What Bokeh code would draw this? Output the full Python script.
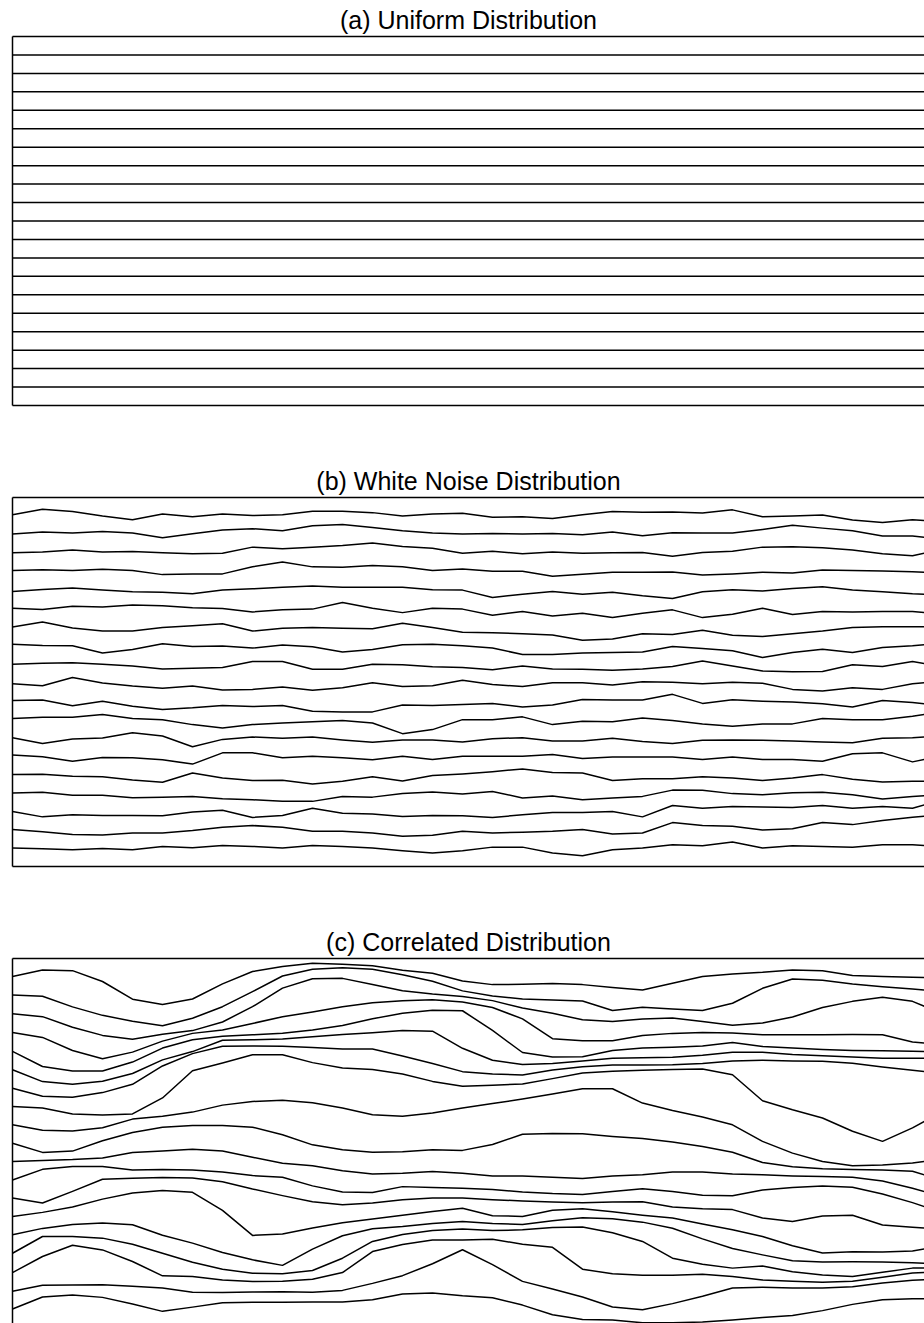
from bokeh.plotting import figure
from bokeh.models import LinearAxis, Range1d, FixedTicker
from bokeh.layouts import column
from bokeh.embed import file_html
from bokeh.resources import INLINE

# ---------------- data ----------------
titles = ["(a) Uniform Distribution", "(b) White Noise Distribution", "(c) Correlated Distribution"]
x_positions = [0, 1, 2, 3, 4, 5, 6, 7, 8, 9, 10, 11, 12, 13, 14, 15, 16, 17, 18, 19, 20,
               21, 22, 23, 24, 25, 26, 27, 28, 29, 30, 30.4]
line_levels = [19, 18, 17, 16, 15, 14, 13, 12, 11, 10, 9, 8, 7, 6, 5, 4, 3, 2, 1]
uniform_x = [0, 30.4]

# (b) white noise: deviation from each line's level
noise_01 = [0.07, 0.36, 0.24, 0, -0.2, 0.11, -0.04, 0.11, 0.02, 0.07, 0.25, 0.25, 0.18, 0, 0.11, 0.14, -0.07, -0.04, -0.14, 0.07, 0.24, 0.2, 0.22, 0.16, 0.33, -0.04, 0, 0.05, -0.22, -0.36, -0.2, -0.25]
noise_02 = [0.02, 0.13, 0.07, 0.16, 0.07, -0.18, 0.04, 0.24, 0.31, 0.2, 0.47, 0.53, 0.38, 0.2, 0.07, 0.02, 0.05, 0.02, 0.05, -0.02, 0.13, -0.07, 0.09, 0.07, 0.07, 0.27, 0.49, 0.34, 0.2, -0.09, -0.09, -0.16]
noise_03 = [0, 0.05, 0.15, 0.04, 0.07, 0, -0.05, -0.02, 0.31, 0.22, 0.31, 0.4, 0.53, 0.34, 0.25, -0.02, 0.09, -0.05, 0.05, -0.02, 0, 0.02, -0.18, 0.02, 0.09, 0.31, 0.33, 0.27, 0.16, -0.05, -0.16, -0.02]
noise_04 = [0.04, 0.09, 0.05, 0.11, 0.04, -0.18, -0.14, -0.14, 0.25, 0.5, 0.24, 0.22, 0.31, 0.25, 0.04, 0.13, 0, 0, -0.27, -0.16, -0.05, -0.05, -0.04, -0.2, -0.14, -0.05, -0.09, 0.07, 0.04, 0.02, -0.02, -0.05]
noise_05 = [-0.09, 0.02, 0.09, -0.02, -0.11, -0.14, -0.22, -0.02, 0.05, 0.13, 0.2, 0.13, 0.13, 0.14, 0, -0.02, -0.42, -0.24, -0.09, -0.25, -0.13, -0.33, -0.47, -0.11, 0, -0.07, 0.07, 0.16, -0.02, -0.11, -0.22, -0.24]
noise_06 = [0, -0.07, 0.11, 0.07, 0.18, 0.13, 0.02, -0.02, -0.2, -0.09, -0.05, 0.31, 0, -0.24, 0, -0.05, -0.38, -0.18, -0.42, -0.27, -0.51, -0.27, -0.09, -0.51, -0.33, 0, -0.34, -0.18, -0.2, -0.18, -0.18, -0.24]
noise_07 = [-0.02, 0.25, -0.07, -0.24, -0.24, -0.04, 0.05, 0.16, -0.24, -0.09, -0.05, -0.09, -0.11, 0.18, -0.05, -0.3, -0.33, -0.38, -0.45, -0.74, -0.67, -0.38, -0.42, -0.2, -0.47, -0.53, -0.38, -0.24, -0.05, 0, 0, 0]
noise_08 = [0.05, -0.02, -0.04, -0.43, -0.24, 0.07, -0.07, -0.05, -0.16, 0, -0.09, -0.38, -0.24, 0.02, 0.05, -0.04, -0.16, -0.51, -0.51, -0.43, -0.4, -0.38, -0.07, -0.18, -0.31, -0.67, -0.4, -0.22, -0.4, -0.13, -0.04, 0.02]
noise_09 = [-0.04, 0.02, 0.05, -0.04, -0.13, -0.29, -0.25, -0.22, 0.11, 0.11, -0.31, -0.31, -0.04, -0.07, -0.18, -0.22, -0.34, -0.13, -0.29, -0.31, -0.36, -0.29, -0.16, 0.14, -0.13, -0.4, -0.45, -0.43, -0.07, -0.16, 0.11, 0]
noise_10 = [-0.09, -0.2, 0.24, -0.05, -0.22, -0.34, -0.22, -0.43, -0.4, -0.27, -0.45, -0.31, -0.04, -0.25, -0.2, 0.09, -0.13, -0.25, -0.04, -0.04, -0.16, 0.02, -0.02, -0.09, -0.02, -0.07, -0.4, -0.49, -0.31, -0.4, -0.09, -0.04]
noise_11 = [0, 0.02, -0.29, -0.04, -0.31, -0.49, -0.4, -0.27, -0.33, -0.27, -0.58, -0.62, -0.62, -0.25, -0.27, -0.22, -0.16, -0.36, -0.25, 0.05, 0.02, 0.02, 0.33, -0.16, 0.04, -0.04, -0.09, -0.18, -0.36, 0, -0.11, -0.18]
noise_12 = [0.02, 0.09, 0.09, 0.24, 0.02, -0.04, -0.31, -0.49, -0.31, -0.22, -0.16, -0.09, -0.22, -0.8, -0.58, -0.04, -0.04, 0.11, -0.31, -0.13, -0.16, 0.05, -0.09, -0.27, -0.4, -0.27, -0.27, 0.02, -0.04, -0.04, 0.14, 0.24]
noise_13 = [-0.02, -0.33, -0.09, -0.04, 0.25, 0.07, -0.51, -0.11, 0.02, -0.05, 0.02, -0.14, -0.27, -0.14, -0.14, -0.25, -0.07, -0.02, -0.2, -0.2, -0.05, -0.22, -0.33, -0.16, -0.14, -0.16, -0.2, -0.25, -0.29, -0.05, -0.02, 0.02]
noise_14 = [0.04, -0.05, -0.29, -0.09, -0.11, -0.22, -0.45, 0.16, 0.16, -0.11, -0.02, -0.11, -0.22, -0.02, -0.2, -0.02, -0.02, -0.02, 0.07, -0.14, -0.07, -0.07, -0.07, -0.2, -0.07, -0.2, -0.2, -0.29, 0.11, 0.16, -0.33, -0.2]
noise_15 = [-0.02, 0, -0.11, -0.14, -0.31, -0.43, 0.07, -0.2, -0.34, -0.33, -0.53, -0.38, -0.13, -0.36, -0.07, 0.02, 0.14, 0.29, 0.09, 0.07, -0.34, -0.24, -0.24, -0.14, -0.2, -0.34, -0.2, -0.02, -0.27, -0.42, -0.38, -0.38]
noise_16 = [-0.02, 0.02, -0.14, -0.14, -0.27, -0.24, -0.2, -0.33, -0.38, -0.47, -0.47, -0.2, -0.24, -0.04, 0.04, -0.07, 0.07, -0.29, -0.18, -0.38, -0.29, -0.2, 0.14, 0.13, -0.05, -0.11, 0, 0.02, -0.11, -0.34, -0.2, -0.16]
noise_17 = [-0.02, -0.31, -0.2, -0.24, -0.24, -0.25, -0.05, 0.05, -0.34, -0.24, 0.16, -0.11, -0.16, -0.29, -0.24, -0.25, -0.34, -0.2, -0.07, -0.07, -0.02, -0.31, 0.31, 0.16, 0.25, 0.22, 0.2, 0.31, 0.16, 0.25, 0.16, 0.34]
noise_18 = [0, -0.11, -0.27, -0.29, -0.18, -0.18, -0.05, 0.13, 0.22, 0.13, -0.09, -0.09, -0.18, -0.36, -0.31, -0.09, -0.18, -0.14, -0.09, 0, -0.24, -0.18, 0.38, 0.22, 0.18, -0.02, 0.05, 0.38, 0.27, 0.49, 0.67, 0.72]
noise_19 = [0, -0.04, -0.09, -0.02, -0.09, 0.09, 0.02, 0.14, 0.09, 0, 0.14, 0.09, 0, -0.14, -0.27, -0.14, 0.05, 0.05, -0.27, -0.42, -0.09, 0, 0.18, 0.13, 0.33, 0, 0.13, 0.09, 0.04, 0.18, 0.18, 0.13]

# (c) correlated: deviation from each line's level
corr_01 = [0.02, 0.38, 0.34, -0.25, -1.21, -1.5, -1.2, -0.38, 0.29, 0.56, 0.74, 0.69, 0.6, 0.36, 0.2, -0.22, -0.42, -0.4, -0.36, -0.42, -0.58, -0.71, -0.34, 0.02, 0.16, 0.25, 0.38, 0.33, 0.07, 0.02, -0.02, -0.04]
corr_02 = [0.02, -0.05, -0.63, -1.09, -1.41, -1.65, -1.25, -0.62, 0.2, 1.05, 1.41, 1.5, 1.41, 1.12, 0.76, 0.24, -0.04, -0.2, -0.25, -0.31, -0.83, -0.65, -0.74, -0.83, -0.43, 0.38, 0.89, 0.82, 0.62, 0.47, 0.34, 0.29]
corr_03 = [0, -0.16, -0.74, -1.18, -1.39, -1.12, -0.92, -0.45, 0.38, 1.39, 1.9, 1.92, 1.59, 1.25, 1.07, 0.94, 0.71, 0.31, 0.02, -0.33, -0.42, -0.29, -0.24, -0.42, -0.63, -0.51, -0.18, 0.34, 0.67, 0.89, 0.67, 0.4]
corr_04 = [-0.02, -0.29, -1.0, -1.45, -1.09, -0.49, -0.07, 0.11, 0.47, 0.83, 1.09, 1.38, 1.59, 1.7, 1.76, 1.63, 1.34, 0.72, -0.36, -0.47, -0.47, -0.18, -0.07, -0.02, -0.05, -0.14, -0.14, -0.14, -0.13, -0.14, -0.54, -0.6]
corr_05 = [-0.05, -0.87, -1.12, -1.12, -0.63, 0.13, 0.58, 0.78, 0.85, 0.94, 1.11, 1.36, 1.72, 2.03, 2.19, 2.16, 1.09, -0.11, -0.36, -0.34, 0, 0.13, 0.18, 0.25, 0.43, 0.22, 0.13, 0.05, 0, -0.02, -0.04, -0.05]
corr_06 = [-0.05, -0.69, -0.83, -0.67, -0.25, 0.49, 0.94, 1.56, 1.58, 1.63, 1.74, 1.87, 1.96, 2.08, 2.05, 1.12, 0.47, 0.24, 0.29, 0.43, 0.58, 0.6, 0.63, 0.74, 0.91, 0.91, 0.78, 0.72, 0.65, 0.58, 0.58, 0.58]
corr_07 = [-0.05, -0.49, -0.54, -0.29, 0.16, 1.16, 1.83, 2.23, 2.25, 2.23, 2.16, 2.08, 2.08, 1.7, 1.29, 0.85, 0.72, 0.67, 0.94, 1.12, 1.21, 1.21, 1.23, 1.29, 1.43, 1.47, 1.43, 1.41, 1.3, 1.1, 0.92, 0.85]
corr_08 = [-0.04, -0.13, -0.45, -0.51, -0.45, 0.42, 1.9, 2.32, 2.77, 2.77, 2.34, 2.05, 1.97, 1.72, 1.32, 1.05, 1.11, 1.18, 1.47, 1.78, 1.87, 1.92, 1.96, 1.99, 1.68, 0.27, -0.22, -0.67, -1.39, -1.94, -1.21, -0.85]
corr_09 = [-0.04, -0.34, -0.38, -0.2, 0.27, 0.43, 0.65, 1.03, 1.23, 1.29, 1.16, 0.87, 0.51, 0.42, 0.6, 0.87, 1.12, 1.36, 1.63, 1.92, 1.92, 1.14, 0.74, 0.38, -0.04, -0.94, -1.58, -2.03, -2.26, -2.23, -2.12, -2.03]
corr_10 = [-0.04, -0.54, -0.47, 0.09, 0.54, 0.83, 0.92, 0.92, 0.83, 0.42, -0.13, -0.4, -0.53, -0.51, -0.4, -0.43, -0.11, 0.45, 0.49, 0.47, 0.33, 0.22, 0.02, -0.22, -0.53, -1.09, -1.32, -1.43, -1.47, -1.5, -1.56, -1.76]
corr_11 = [-0.04, 0.02, 0.07, 0.16, 0.45, 0.54, 0.63, 0.54, 0.2, -0.13, -0.27, -0.54, -0.71, -0.67, -0.58, -0.67, -0.82, -0.82, -0.89, -0.96, -0.82, -0.76, -0.6, -0.6, -0.71, -0.76, -0.82, -0.85, -0.89, -1.09, -1.49, -1.67]
corr_12 = [-0.04, 0.54, 0.69, 0.69, 0.51, 0.53, 0.51, 0.4, 0.2, 0.11, -0.36, -0.69, -0.72, -0.4, -0.45, -0.49, -0.56, -0.69, -0.78, -0.83, -0.67, -0.51, -0.67, -0.87, -0.89, -0.58, -0.45, -0.36, -0.43, -0.8, -1.27, -1.49]
corr_13 = [-0.02, -0.29, 0.34, 1.0, 1.05, 1.09, 1.07, 0.87, 0.47, 0.11, -0.22, -0.38, -0.29, -0.11, -0.02, -0.02, -0.11, -0.18, -0.24, -0.27, -0.24, -0.22, -0.51, -0.6, -0.65, -1.11, -1.3, -1.0, -0.96, -1.49, -1.61, -1.65]
corr_14 = [-0.02, 0.2, 0.49, 0.92, 1.25, 1.39, 1.29, 0.31, -1.05, -0.98, -0.65, -0.36, -0.16, 0.04, 0.25, 0.43, 0.02, -0.02, 0.31, 0.4, 0.24, 0.05, -0.11, -0.43, -0.74, -1.11, -1.61, -2.01, -1.94, -1.96, -1.9, -1.79]
corr_15 = [-0.02, 0.33, 0.54, 0.62, 0.53, -0.04, -0.47, -0.98, -1.38, -1.68, -0.8, -0.07, 0.31, 0.43, 0.6, 0.71, 0.6, 0.54, 0.74, 0.91, 0.85, 0.67, 0.34, -0.24, -0.76, -1.11, -1.43, -1.5, -1.49, -1.5, -1.54, -1.56]
corr_16 = [-0.02, 0.89, 0.89, 0.8, 0.47, -0.02, -0.51, -0.89, -1.11, -1.14, -0.96, -0.29, 0.62, 1.0, 1.21, 1.29, 1.21, 1.25, 1.38, 1.41, 1.09, 0.62, -0.29, -0.62, -0.83, -0.71, -1.03, -1.21, -1.29, -1.05, -0.83, -0.83]
corr_17 = [-0.07, 0.8, 1.41, 1.16, 0.53, -0.25, -0.29, -0.47, -0.56, -0.54, -0.43, -0.07, 1.07, 1.45, 1.7, 1.7, 1.74, 1.47, 1.3, 0.11, -0.14, -0.22, -0.22, -0.16, -0.29, -0.47, -0.54, -0.6, -0.54, -0.33, -0.09, -0.07]
corr_18 = [-0.09, 0.24, 0.25, 0.27, 0.18, 0.09, -0.14, -0.16, -0.13, -0.11, -0.14, -0.04, 0.34, 0.76, 1.41, 2.17, 1.36, 0.45, 0.04, -0.4, -0.94, -1.09, -0.76, -0.36, 0.09, 0.13, 0.09, 0.09, 0.16, 0.36, 0.51, 0.54]
corr_19 = [-0.05, 0.6, 0.71, 0.58, 0.22, -0.18, 0.05, 0.29, 0.31, 0.31, 0.33, 0.33, 0.45, 0.76, 0.82, 0.67, 0.56, 0.16, -0.36, -0.62, -0.65, -0.8, -0.8, -0.76, -0.65, -0.51, -0.4, -0.14, 0.2, 0.45, 0.51, 0.51]

noise_lines = [noise_01, noise_02, noise_03, noise_04, noise_05, noise_06, noise_07, noise_08, noise_09, noise_10,
               noise_11, noise_12, noise_13, noise_14, noise_15, noise_16, noise_17, noise_18, noise_19]
corr_lines = [corr_01, corr_02, corr_03, corr_04, corr_05, corr_06, corr_07, corr_08, corr_09, corr_10,
              corr_11, corr_12, corr_13, corr_14, corr_15, corr_16, corr_17, corr_18, corr_19]

FONT = "Liberation Sans"


def spine(p, loc):
    ax = LinearAxis(ticker=FixedTicker(ticks=[]), axis_line_color="black", axis_line_width=1.5,
                    major_tick_line_color=None, minor_tick_line_color=None,
                    major_tick_out=0, major_tick_in=0, minor_tick_out=0, minor_tick_in=0,
                    major_label_text_font_size="0px", major_label_standoff=0)
    p.add_layout(ax, loc)


def panel(title, height, top, bottom, y_start, with_bottom):
    p = figure(width=924, height=height, title=title,
               x_range=Range1d(0, 30.4), y_range=Range1d(y_start, 20),
               x_axis_type=None, y_axis_type=None,
               output_backend="svg", toolbar_location=None,
               min_border_left=12, min_border_right=0,
               min_border_top=top, min_border_bottom=bottom)
    p.outline_line_color = None
    p.background_fill_color = "white"
    p.border_fill_color = "white"
    p.title.align = "center"
    p.title.text_font = FONT
    p.title.text_font_size = "25px"
    p.title.text_font_style = "normal"
    p.title.text_color = "black"
    p.title.standoff = 6
    spine(p, "left")
    spine(p, "above")
    if with_bottom:
        spine(p, "below")
    return p


# (a) uniform
pa = panel(titles[0], 461, 36, 56, 0, True)
pa.multi_line(xs=[uniform_x for _ in line_levels], ys=[[lv, lv] for lv in line_levels],
              line_color="black", line_width=1.5)

# (b) white noise
pb = panel(titles[1], 461, 36, 56, 0, True)
pb.multi_line(xs=[x_positions for _ in line_levels],
              ys=[[lv + d for d in dev] for lv, dev in zip(line_levels, noise_lines)],
              line_color="black", line_width=1.5, line_join="round")

# (c) correlated
pc = panel(titles[2], 401, 35, 0, 0.16, False)
pc.multi_line(xs=[x_positions for _ in line_levels],
              ys=[[lv + d for d in dev] for lv, dev in zip(line_levels, corr_lines)],
              line_color="black", line_width=1.5, line_join="round")

layout = column(pa, pb, pc, spacing=0)
open("out.html", "w").write(file_html(layout, INLINE))
